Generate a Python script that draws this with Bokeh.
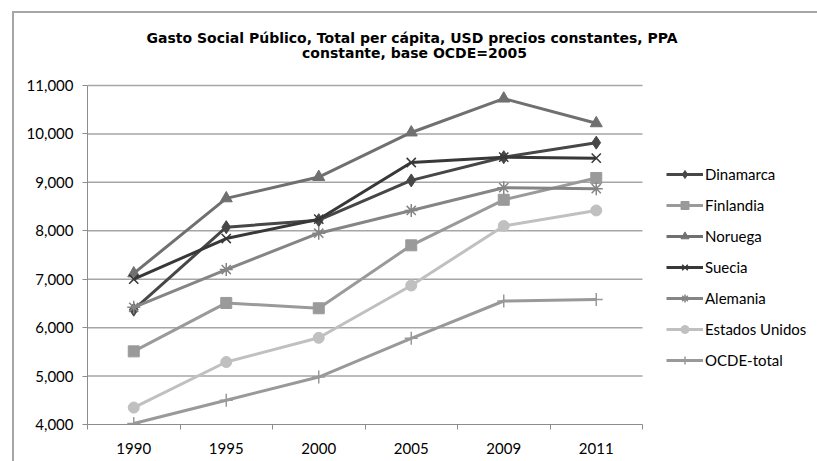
from bokeh.plotting import figure
from bokeh.layouts import column
from bokeh.models import (Range1d, FixedTicker, NumeralTickFormatter, Legend, LegendItem, Label)
from bokeh.embed import file_html
from bokeh.resources import INLINE

years = ["1990", "1995", "2000", "2005", "2009", "2011"]
dinamarca = [6370, 8075, 8220, 9040, 9520, 9820]
finlandia = [5510, 6510, 6400, 7700, 8640, 9090]
noruega = [7120, 8670, 9110, 10030, 10730, 10220]
suecia = [7000, 7840, 8240, 9410, 9520, 9500]
alemania = [6420, 7200, 7950, 8420, 8890, 8870]
estados_unidos = [4350, 5290, 5790, 6870, 8100, 8420]
ocde_total = [4020, 4500, 4980, 5780, 6550, 6580]
y_ticks = [4000, 5000, 6000, 7000, 8000, 9000, 10000, 11000]

title_lines = ["Gasto Social Público, Total per cápita, USD precios constantes,  PPA",
               "constante, base OCDE=2005"]

series = [
    ("Dinamarca", dinamarca, "#474747", "diamond", 13),
    ("Finlandia", finlandia, "#9a9a9a", "square", 11),
    ("Noruega", noruega, "#707070", "triangle", 12),
    ("Suecia", suecia, "#383838", "x", 13),
    ("Alemania", alemania, "#858585", "asterisk", 13),
    ("Estados Unidos", estados_unidos, "#c0c0c0", "circle", 11),
    ("OCDE-total", ocde_total, "#999999", "cross", 13),
]

n = len(years)
xs = [i + 0.5 for i in range(n)]

# The frame spans to the right edge so the legend can sit inside it;
# the plotting area proper covers x in [0, n] (555 px of the 730 px frame).
x_end = n * 730 / 555
y_top = y_ticks[-1] + 2 * 1000 / 48.43

p = figure(width=803, height=448, output_backend="svg", toolbar_location=None,
           x_range=Range1d(0, x_end), y_range=Range1d(y_ticks[0], y_top),
           min_border_left=73, min_border_right=0, min_border_top=70, min_border_bottom=37)
p.outline_line_color = None
p.background_fill_color = "white"
p.border_fill_color = "white"
p.title.visible = False

for i, line in enumerate(title_lines):
    p.add_layout(Label(x=400, y=24 + 15 * i, x_units="canvas", y_units="canvas", text=line,
                       text_align="center", text_baseline="middle",
                       text_font="DejaVu Sans", text_font_size="14px", text_font_style="bold",
                       text_color="#000000"), "above")

# horizontal gridlines limited to the plotting area
p.xgrid.visible = False
p.ygrid.visible = False
grid_vals = y_ticks[1:]
p.segment(x0=[0] * len(grid_vals), x1=[n] * len(grid_vals), y0=grid_vals, y1=grid_vals,
          line_color="#a6a6a6", line_width=1.5)

p.yaxis.ticker = FixedTicker(ticks=y_ticks)
p.yaxis.bounds = (y_ticks[0], y_ticks[-1])
p.yaxis.formatter = NumeralTickFormatter(format="0,0")
p.yaxis.axis_line_color = "#8c8c8c"
p.yaxis.major_tick_line_color = "#8c8c8c"
p.yaxis.major_tick_out = 5
p.yaxis.major_tick_in = 0
p.yaxis.minor_tick_line_color = None
p.yaxis.major_label_standoff = 9
p.yaxis.major_label_text_font = "Lato"
p.yaxis.major_label_text_font_size = "15px"
p.yaxis.major_label_text_color = "#000000"

p.xaxis.ticker = FixedTicker(ticks=xs, minor_ticks=list(range(n + 1)))
p.xaxis.bounds = (0, n)
p.xaxis.major_label_overrides = {x: y for x, y in zip(xs, years)}
p.xaxis.axis_line_color = "#8c8c8c"
p.xaxis.major_tick_line_color = None
p.xaxis.major_tick_out = 0
p.xaxis.major_tick_in = 0
p.xaxis.minor_tick_line_color = "#8c8c8c"
p.xaxis.minor_tick_out = 5
p.xaxis.minor_tick_in = 0
p.xaxis.major_label_standoff = 13
p.xaxis.major_label_text_font = "Lato"
p.xaxis.major_label_text_font_size = "15px"
p.xaxis.major_label_text_color = "#000000"

items = []
for name, vals, color, marker, size in series:
    r1 = p.line(xs, vals, line_color=color, line_width=3)
    if marker in ("x", "asterisk", "cross"):
        r2 = p.scatter(xs, vals, marker=marker, size=size, line_color=color, line_width=1.5)
    else:
        r2 = p.scatter(xs, vals, marker=marker, size=size, fill_color=color, line_color=color)
    items.append(LegendItem(label=name, renderers=[r1, r2]))

legend = Legend(items=items, location=(579, 54), glyph_width=37, glyph_height=20,
                label_height=20, spacing=11, padding=10, margin=0, label_standoff=2,
                label_text_font="Lato", label_text_font_size="15px", label_text_color="#000000",
                border_line_color=None, background_fill_alpha=0)
p.add_layout(legend, "center")

root = column(p, margin=(11, 0, 0, 12),
              styles={"border-top": "2px solid #a6a6a6", "border-left": "2px solid #a6a6a6"})

open("out.html", "w").write(file_html(root, INLINE))
